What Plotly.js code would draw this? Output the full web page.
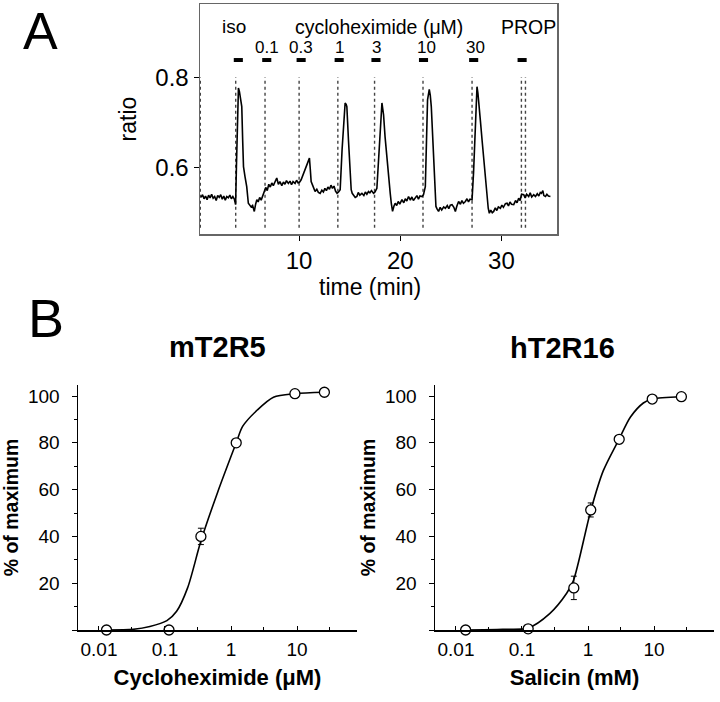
<!DOCTYPE html>
<html>
<head>
<meta charset="utf-8">
<script src="https://cdn.plot.ly/plotly-3.0.1.min.js"></script>
<style>html,body{margin:0;padding:0;background:#fff;}#chart{width:720px;height:702px;}</style>
</head>
<body>
<div id="chart"></div>
<script>
// ---------- Panel A: calcium imaging trace ----------
const time = [0.30,0.45,0.60,0.75,0.90,1.05,1.20,1.35,1.50,1.65,1.80,1.95,2.10,2.25,2.40,2.55,2.70,2.85,3.00,3.15,3.30,3.45,3.60,3.72,3.80,3.90,4.00,4.10,4.20,4.33,4.42,4.50,4.65,4.82,4.98,5.10,5.25,5.40,5.57,5.70,5.82,5.95,6.10,6.25,6.40,6.55,6.70,6.85,7.00,7.15,7.30,7.45,7.60,7.79,7.95,8.10,8.29,8.45,8.60,8.75,8.94,9.10,9.25,9.40,9.60,9.75,9.90,10.05,10.20,10.40,10.59,10.80,11.02,11.10,11.19,11.35,11.58,11.75,11.90,12.08,12.25,12.40,12.55,12.70,12.85,13.00,13.15,13.30,13.45,13.60,13.75,13.90,14.06,14.25,14.39,14.55,14.65,14.72,14.88,15.00,15.15,15.25,15.38,15.55,15.71,15.85,16.00,16.21,16.40,16.55,16.70,16.86,17.00,17.15,17.36,17.50,17.69,17.85,18.02,18.19,18.27,18.35,18.50,18.68,18.85,19.01,19.12,19.24,19.38,19.50,19.65,19.80,19.95,20.17,20.35,20.50,20.65,20.82,21.00,21.15,21.30,21.49,21.65,21.80,21.95,22.15,22.30,22.48,22.60,22.70,22.87,22.97,23.07,23.20,23.30,23.42,23.53,23.65,23.79,23.95,24.10,24.30,24.46,24.65,24.80,24.95,25.12,25.30,25.45,25.60,25.77,25.95,26.10,26.25,26.44,26.60,26.75,26.90,27.10,27.25,27.36,27.50,27.59,27.68,27.75,27.92,28.09,28.22,28.35,28.47,28.58,28.70,28.81,28.95,29.10,29.24,29.40,29.55,29.70,29.90,30.05,30.20,30.40,30.56,30.70,30.85,31.00,31.22,31.40,31.55,31.71,31.85,32.00,32.21,32.35,32.50,32.70,32.85,33.00,33.20,33.37,33.55,33.70,33.85,33.96,34.10,34.20,34.36,34.50,34.65,34.85];
const ratio = [0.534,0.540,0.531,0.537,0.529,0.539,0.533,0.541,0.532,0.536,0.527,0.538,0.534,0.540,0.530,0.537,0.528,0.536,0.533,0.539,0.531,0.536,0.530,0.518,0.600,0.730,0.776,0.768,0.752,0.735,0.660,0.602,0.580,0.558,0.521,0.517,0.513,0.516,0.503,0.519,0.529,0.524,0.534,0.528,0.536,0.545,0.556,0.549,0.563,0.557,0.566,0.560,0.569,0.577,0.563,0.569,0.560,0.568,0.563,0.571,0.565,0.570,0.562,0.569,0.565,0.572,0.566,0.568,0.573,0.584,0.595,0.607,0.621,0.598,0.569,0.560,0.547,0.552,0.545,0.543,0.550,0.546,0.554,0.549,0.557,0.552,0.561,0.554,0.559,0.548,0.543,0.546,0.551,0.640,0.691,0.743,0.740,0.735,0.661,0.600,0.551,0.543,0.540,0.534,0.536,0.545,0.539,0.543,0.538,0.546,0.541,0.547,0.544,0.549,0.543,0.546,0.554,0.620,0.691,0.743,0.730,0.717,0.668,0.617,0.575,0.543,0.520,0.503,0.515,0.521,0.516,0.525,0.519,0.529,0.522,0.531,0.526,0.536,0.528,0.535,0.527,0.532,0.538,0.530,0.537,0.536,0.540,0.558,0.680,0.750,0.773,0.760,0.735,0.670,0.617,0.560,0.514,0.508,0.503,0.512,0.506,0.513,0.510,0.516,0.509,0.517,0.518,0.512,0.503,0.515,0.525,0.519,0.527,0.521,0.525,0.531,0.524,0.530,0.529,0.590,0.654,0.740,0.779,0.765,0.750,0.705,0.661,0.625,0.588,0.555,0.529,0.510,0.499,0.506,0.500,0.503,0.511,0.505,0.513,0.510,0.517,0.512,0.520,0.521,0.515,0.524,0.519,0.518,0.527,0.522,0.532,0.527,0.541,0.540,0.533,0.541,0.536,0.544,0.535,0.540,0.536,0.542,0.537,0.545,0.543,0.549,0.538,0.536,0.541,0.537,0.536];
const stimTimes = [0.23, 3.73, 6.63, 10.0, 13.83, 17.46, 22.25, 27.1, 31.98, 32.38];
const barStart = [3.54, 6.35, 9.75, 13.51, 17.15, 21.85, 26.81, 31.6];
const barEnd   = [4.44, 7.25, 10.65, 14.41, 18.05, 22.75, 27.71, 32.5];
const doseLabels = ['0.1', '0.3', '1', '3', '10', '30'];
const doseLabelTimes = [6.8, 10.18, 13.96, 17.7, 22.6, 27.4];
const xTicksA = [10, 20, 30];
const yTicksA = [0.6, 0.8];
const yTickTextA = ['0.6', '0.8'];

// ---------- Panel B: dose-response ----------
const mT2R5_conc = [0.013, 0.115, 0.35, 1.2, 9.3, 26];
const mT2R5_resp = [0, 0, 40, 80, 101, 101.6];
const mT2R5_err  = [0, 0, 3.5, 0, 0, 0];
const mT2R5_fitX = [0.013, 0.033, 0.059, 0.107, 0.15, 0.22, 0.35, 0.63, 1.2, 1.5, 2.5, 4.4, 9.3, 26];
const mT2R5_fitY = [0, 0.3, 1.5, 4, 8, 18, 38, 59, 80, 87, 94, 99.5, 101, 101.6];

const hT2R16_conc = [0.014, 0.124, 0.61, 1.1, 2.97, 9.4, 26];
const hT2R16_resp = [0, 0.5, 18, 51.3, 81.5, 98.7, 99.7];
const hT2R16_err  = [0, 0, 5, 3, 0, 0, 0];
const hT2R16_fitX = [0.014, 0.051, 0.123, 0.263, 0.475, 0.6, 1.1, 1.7, 2.95, 4.4, 6.9, 9.4, 26];
const hT2R16_fitY = [0, 0.3, 0.8, 7, 15.7, 21, 51, 68, 81.5, 91, 97, 98.7, 99.7];

const logTicks = [0.01, 0.1, 1, 10];
const logTickText = ['0.01', '0.1', '1', '10'];
const logMinor = [0.0316, 0.316, 3.16, 31.6];
const pctTicks = [0, 20, 40, 60, 80, 100];
const pctTickText = ['', '20', '40', '60', '80', '100'];
const pctMinor = [10, 30, 50, 70, 90];

// ---------- helpers ----------
const W = 720, H = 702;
const px = v => v / W;
const py = v => 1 - v / H;
const FONT = 'Liberation Sans, Arial, Helvetica, sans-serif';

const dotX = [], dotY = [];
stimTimes.forEach(t => { dotX.push(t, t, null); dotY.push(0.467, 0.8, null); });
const barX = [], barY = [];
barStart.forEach((s, i) => { barX.push(s, barEnd[i], null); barY.push(0.838, 0.838, null); });

const traces = [
  {x: dotX, y: dotY, xaxis: 'x', yaxis: 'y', mode: 'lines', line: {color: '#444', width: 1.4, dash: 'dot'}, hoverinfo: 'skip'},
  {x: time, y: ratio, xaxis: 'x', yaxis: 'y', mode: 'lines', line: {color: '#000', width: 1.6}},
  {x: barX, y: barY, xaxis: 'x', yaxis: 'y', mode: 'lines', line: {color: '#000', width: 4}, cliponaxis: false},
  {x: mT2R5_fitX, y: mT2R5_fitY, xaxis: 'x2', yaxis: 'y2', mode: 'lines', line: {color: '#000', width: 1.6, shape: 'spline', smoothing: 0.8}, cliponaxis: false},
  {x: mT2R5_conc, y: mT2R5_resp, xaxis: 'x2', yaxis: 'y2', mode: 'markers', cliponaxis: false,
   marker: {symbol: 'circle', size: 10, color: '#fff', line: {color: '#000', width: 1.3}},
   error_y: {type: 'data', array: mT2R5_err, visible: true, color: '#000', thickness: 1, width: 3}},
  {x: hT2R16_fitX, y: hT2R16_fitY, xaxis: 'x3', yaxis: 'y3', mode: 'lines', line: {color: '#000', width: 1.6, shape: 'spline', smoothing: 0.8}, cliponaxis: false},
  {x: hT2R16_conc, y: hT2R16_resp, xaxis: 'x3', yaxis: 'y3', mode: 'markers', cliponaxis: false,
   marker: {symbol: 'circle', size: 10, color: '#fff', line: {color: '#000', width: 1.3}},
   error_y: {type: 'data', array: hT2R16_err, visible: true, color: '#000', thickness: 1, width: 3}}
];

const tickFontA = {family: FONT, size: 24, color: '#000'};
const tickFontB = {family: FONT, size: 19, color: '#000'};

function logAxis(domain, anchor, titleText) {
  return {
    domain: domain, anchor: anchor, type: 'log', range: [-2.318, 1.909],
    showline: true, linecolor: '#000', linewidth: 1.5, mirror: false,
    showgrid: false, zeroline: false,
    tickmode: 'array', tickvals: logTicks, ticktext: logTickText,
    ticks: 'inside', ticklen: 4, tickwidth: 1, tickcolor: '#000',
    minor: {tickmode: 'array', tickvals: logMinor, ticks: 'inside', ticklen: 3, tickwidth: 1, tickcolor: '#000', showgrid: false},
    tickfont: tickFontB, ticklabelstandoff: 2,
    title: {text: titleText, font: {family: FONT, size: 22, color: '#000', weight: 'bold'}, standoff: 10}
  };
}
function pctAxis(domain, anchor) {
  return {
    domain: domain, anchor: anchor, range: [0, 104.7],
    showline: true, linecolor: '#000', linewidth: 1.5, mirror: false,
    showgrid: false, zeroline: false,
    tickmode: 'array', tickvals: pctTicks, ticktext: pctTickText,
    ticks: 'outside', ticklen: 5, tickwidth: 1, tickcolor: '#000',
    minor: {tickmode: 'array', tickvals: pctMinor, ticks: 'outside', ticklen: 3, tickwidth: 1, tickcolor: '#000', showgrid: false},
    tickfont: tickFontB, ticklabelstandoff: 8,
    title: {text: '% of maximum', font: {family: FONT, size: 19.5, color: '#000', weight: 'bold'}, standoff: 4}
  };
}

const annotations = [
  {text: 'A', xref: 'paper', yref: 'paper', x: px(40), y: py(31), showarrow: false, font: {family: FONT, size: 52, color: '#000'}, xanchor: 'center', yanchor: 'middle'},
  {text: 'B', xref: 'paper', yref: 'paper', x: px(45.5), y: py(318), showarrow: false, font: {family: FONT, size: 54, color: '#000'}, xanchor: 'center', yanchor: 'middle'},
  {text: 'mT2R5', xref: 'paper', yref: 'paper', x: px(217.5), y: py(347), showarrow: false, font: {family: FONT, size: 29, color: '#000', weight: 'bold'}, xanchor: 'center', yanchor: 'middle'},
  {text: 'hT2R16', xref: 'paper', yref: 'paper', x: px(562.5), y: py(348), showarrow: false, font: {family: FONT, size: 29, color: '#000', weight: 'bold'}, xanchor: 'center', yanchor: 'middle'},
  {text: 'iso', xref: 'paper', yref: 'paper', x: px(233.5), y: py(27), showarrow: false, font: {family: FONT, size: 19, color: '#000'}, xanchor: 'center', yanchor: 'middle'},
  {text: 'cycloheximide (μM)', xref: 'paper', yref: 'paper', x: px(378.5), y: py(27), showarrow: false, font: {family: FONT, size: 19.5, color: '#000'}, xanchor: 'center', yanchor: 'middle'},
  {text: 'PROP', xref: 'paper', yref: 'paper', x: px(528.5), y: py(27), showarrow: false, font: {family: FONT, size: 19.5, color: '#000'}, xanchor: 'center', yanchor: 'middle'},
  {text: 'time (min)', xref: 'paper', yref: 'paper', x: px(370), y: py(287), showarrow: false, font: {family: FONT, size: 23, color: '#000'}, xanchor: 'center', yanchor: 'middle'}
];
doseLabels.forEach((lab, i) => {
  annotations.push({text: lab, xref: 'x', yref: 'y', x: doseLabelTimes[i], y: 0.866, showarrow: false,
    font: {family: FONT, size: 17, color: '#000'}, xanchor: 'center', yanchor: 'middle'});
});

const layout = {
  width: W, height: H,
  margin: {l: 0, r: 0, t: 0, b: 0},
  paper_bgcolor: '#fff', plot_bgcolor: '#fff',
  showlegend: false,
  font: {family: FONT, color: '#000'},
  xaxis: {
    domain: [px(200), px(557)], anchor: 'y', range: [0.2, 35.5],
    showline: true, mirror: true, linecolor: '#666', linewidth: 1.5,
    showgrid: false, zeroline: false,
    tickmode: 'array', tickvals: xTicksA, ticks: 'outside', ticklen: 5, tickcolor: '#000', tickwidth: 1,
    tickfont: tickFontA
  },
  yaxis: {
    domain: [py(234), py(4)], anchor: 'x', range: [0.453, 0.962],
    showline: true, mirror: true, linecolor: '#666', linewidth: 1.5,
    showgrid: false, zeroline: false,
    tickmode: 'array', tickvals: yTicksA, ticktext: yTickTextA, ticks: 'outside', ticklen: 5, tickcolor: '#000', tickwidth: 1,
    tickfont: tickFontA,
    title: {text: 'ratio', font: {family: FONT, size: 23, color: '#000'}, standoff: 12}
  },
  xaxis2: logAxis([px(78), px(357)], 'y2', 'Cycloheximide (μM)'),
  yaxis2: pctAxis([py(630), py(385)], 'x2'),
  xaxis3: logAxis([px(435), px(714)], 'y3', 'Salicin (mM)'),
  yaxis3: pctAxis([py(630), py(385)], 'x3'),
  annotations: annotations
};

Plotly.newPlot('chart', traces, layout, {staticPlot: true, displayModeBar: false});
</script>
</body>
</html>
